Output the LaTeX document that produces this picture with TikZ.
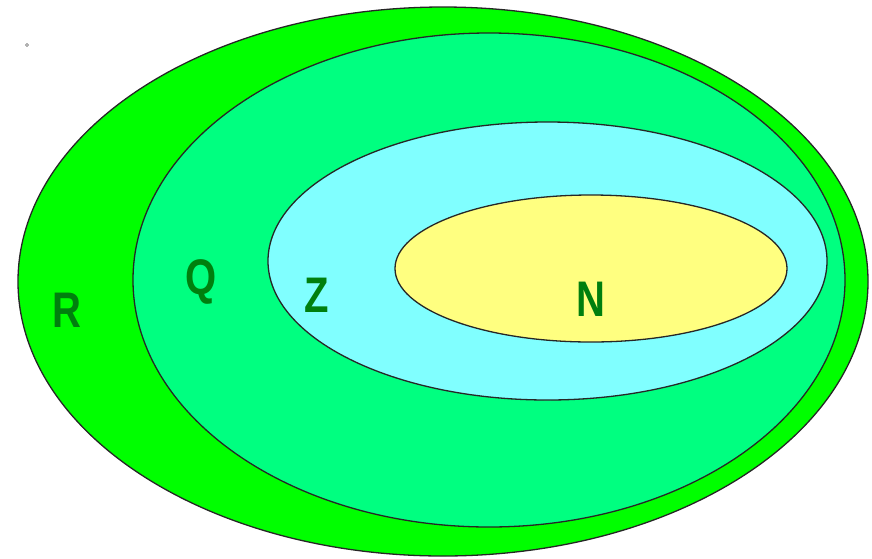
\documentclass[tikz,border=0pt]{standalone}
\usepackage{fontspec}
\setmainfont{Liberation Sans}
\definecolor{rcol}{HTML}{00FF00}
\definecolor{qcol}{HTML}{00FF80}
\definecolor{zcol}{HTML}{80FFFF}
\definecolor{ncol}{HTML}{FFFF80}
\definecolor{lblcol}{HTML}{007F0E}
\tikzset{
  setline/.style={draw=black!85, line width=1.3pt},
  setlabel/.style={text=lblcol, font=\bfseries\fontsize{40}{40}\selectfont, yscale=1.25, inner sep=0pt}
}
\begin{document}
\begin{tikzpicture}[x=1pt,y=-1pt]
\useasboundingbox (0,0) rectangle (872,558);
\fill[white] (0,0) rectangle (872,558);
\draw[setline, fill=rcol] (443,281.5) ellipse [x radius=425, y radius=274.5];
\draw[setline, fill=qcol] (489,280) ellipse [x radius=356, y radius=247];
\draw[setline, fill=zcol] (547.5,261) ellipse [x radius=279.5, y radius=139];
\draw[setline, fill=ncol] (591,268.5) ellipse [x radius=196, y radius=73.5];
\node[setlabel] (R) at (67,310) {R};
\node[setlabel] (Q) at (201,282) {Q};
\node[setlabel] (Z) at (317,295) {Z};
\node[setlabel] (N) at (591,299) {N};
\node[circle, draw=black!60, line width=0.6pt, inner sep=0pt, minimum size=3pt] (dot) at (27,45) {};
\end{tikzpicture}
\end{document}
